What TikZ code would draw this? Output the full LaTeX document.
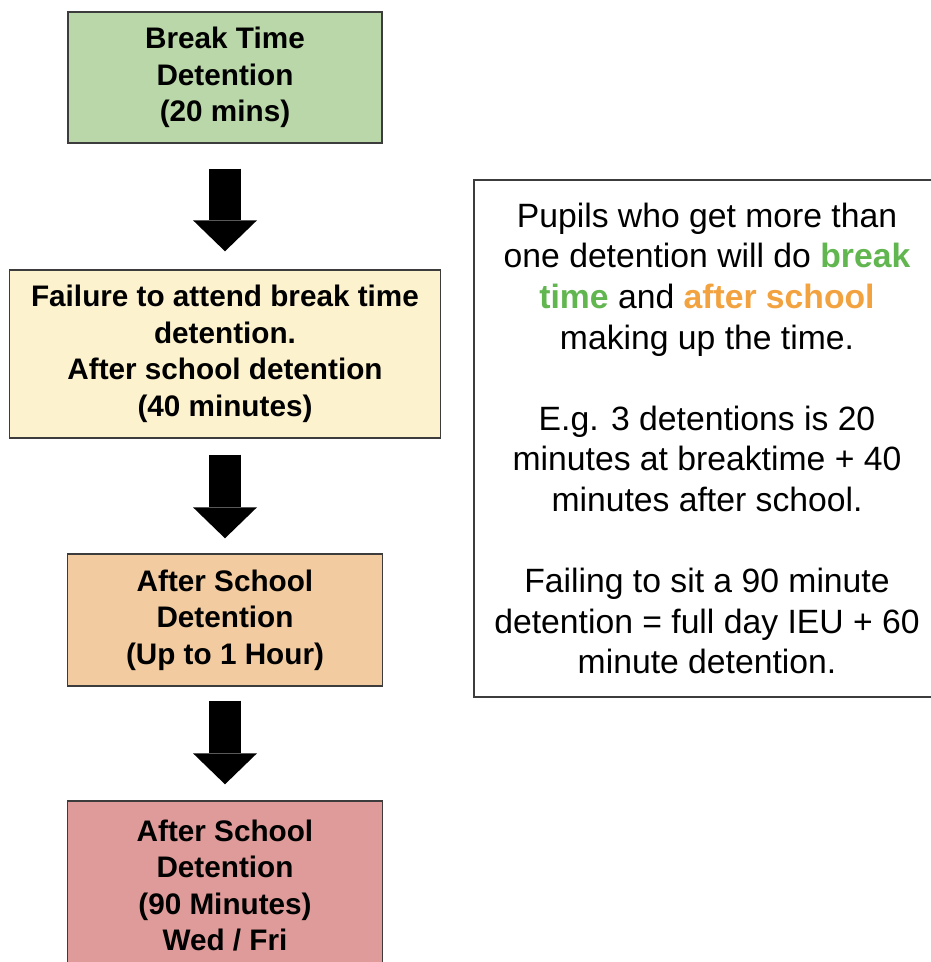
\documentclass[tikz,border=0pt]{standalone}
\usepackage{fontspec}
\setmainfont{Liberation Sans}
\usepackage{xcolor}
\usepackage{tikz}
\usetikzlibrary{arrows.meta,positioning}
\definecolor{BreakFill}{RGB}{185,215,168}
\definecolor{FailFill}{RGB}{253,242,206}
\definecolor{HourFill}{RGB}{242,204,160}
\definecolor{LongFill}{RGB}{222,155,153}
\definecolor{Edge}{RGB}{60,60,60}
\definecolor{BreakText}{RGB}{98,182,80}
\definecolor{SchoolText}{RGB}{242,162,62}

\begin{document}
\begin{tikzpicture}[x=1pt, y=-1pt,
    stage/.style={draw=Edge, line width=1.4pt, align=center, inner sep=0pt,
      font=\fontsize{29.7}{36.5}\selectfont\bfseries},
    flowarrow/.style={line width=32pt, -{Triangle[width=64pt, length=31pt, line width=0pt]}}]
    \useasboundingbox (0,0) rectangle (930,962);
    % stages, top to bottom
    \node[stage, fill=BreakFill, minimum width=314pt, minimum height=131pt] (brk) at (225,77.5)
      {Break Time\\Detention\\(20 mins)};
    \node[stage, fill=FailFill, minimum width=431pt, minimum height=168pt] (fail) at (225,354)
      {Failure to attend break time\\detention.\\After school detention\\(40 minutes)};
    \node[stage, fill=HourFill, minimum width=315pt, minimum height=132pt] (hour) at (225,620)
      {After School\\Detention\\(Up to 1 Hour)};
    \node[stage, fill=LongFill, minimum width=315pt, minimum height=169pt] (long) at (225,885.5)
      {After School\\Detention\\(90 Minutes)\\Wed / Fri};
    \draw[flowarrow, shorten <=25pt, shorten >=18pt] (brk) -- (fail);
    \draw[flowarrow, shorten <=16pt, shorten >=15pt] (fail) -- (hour);
    \draw[flowarrow, shorten <=14pt, shorten >=16pt] (hour) -- (long);
    % note on the right
    \node[draw=Edge, line width=1.4pt, fill=white, align=center, inner sep=0pt,
      minimum width=466pt, minimum height=517pt,
      font=\fontsize{33.7}{40.6}\selectfont] (note) at (707,438.5)
      {Pupils who get more than\\
       one detention will do \textcolor{BreakText}{\bfseries break}\\
       \textcolor{BreakText}{\bfseries time} and \textcolor{SchoolText}{\bfseries after school}\\
       making up the time.\\[40.6pt]
       E.g. 3 detentions is 20\\
       minutes at breaktime + 40\\
       minutes after school.\\[40.6pt]
       Failing to sit a 90 minute\\
       detention = full day IEU + 60\\
       minute detention.};
  \end{tikzpicture}
\end{document}
